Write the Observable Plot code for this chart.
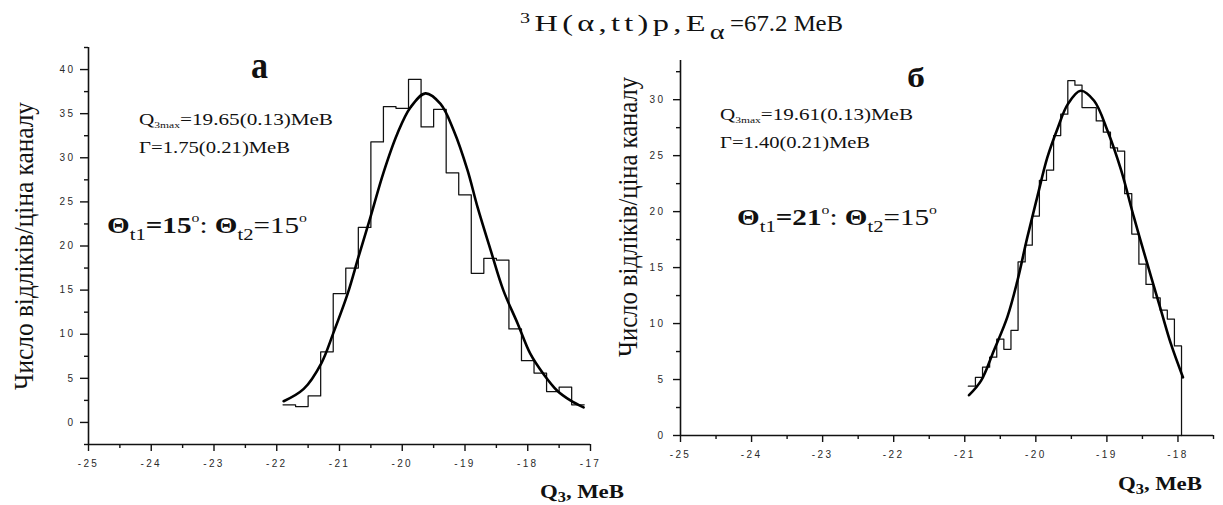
<!DOCTYPE html>
<html>
<head>
<meta charset="utf-8">
<script src="https://cdn.jsdelivr.net/npm/d3@7"></script>
<script src="https://cdn.jsdelivr.net/npm/@observablehq/plot@0.6"></script>
<style>
  html, body { margin: 0; padding: 0; background: #fff; }
  #wrap { position: relative; width: 1223px; height: 505px; overflow: hidden; }
  #wrap > svg { position: absolute; top: 0; }
  #notes { left: 0; pointer-events: none; }
</style>
</head>
<body>
<div id="wrap"></div>
<script>
// ---- Panel а: Θt1 = 15°, Θt2 = 15°, 0.2 MeV channels ----
const aBinStart = -21.9;
const aBinWidth = 0.2;
const aCounts = [2.0, 1.8, 3.0, 8.0, 14.6, 17.5, 22.1, 31.8, 35.8, 35.6, 38.9, 33.5,
                 35.5, 28.3, 25.8, 16.9, 18.6, 18.4, 10.6, 7.0, 5.6, 3.5, 4.0, 2.0];
// fitted curve, read along its path
const aFitQ = [-21.89, -21.57, -21.29, -21.10, -20.87, -20.70, -20.51, -20.30, -20.08, -19.87,
               -19.63, -19.39, -19.18, -18.96, -18.80, -18.59, -18.39, -18.16, -17.96, -17.75,
               -17.53, -17.32, -17.11];
const aFitN = [2.4, 3.8, 6.7, 10.1, 14.6, 18.7, 23.2, 28.3, 32.7, 35.7,
               37.3, 36.1, 33.1, 28.6, 24.4, 19.5, 15.0, 11.2, 7.8, 5.5,
               3.6, 2.5, 1.7];

// ---- Panel б: Θt1 = 21°, Θt2 = 15°, 0.1 MeV channels ----
const bBinStart = -20.95;
const bBinWidth = 0.1;
const bCounts = [4.4, 5.2, 6.1, 7.0, 8.6, 7.7, 9.4, 15.5, 17.0, 19.6,
                 22.8, 23.7, 26.8, 28.7, 31.7, 31.3, 29.3, 29.3, 28.1, 27.1,
                 25.7, 25.4, 21.6, 18.0, 15.3, 13.5, 12.3, 11.2, 10.4, 8.0];
const bFitQ = [-20.94, -20.77, -20.59, -20.40, -20.26, -20.12, -19.98, -19.84, -19.69, -19.55,
               -19.37, -19.18, -18.99, -18.80, -18.62, -18.43, -18.24, -18.10, -17.93];
const bFitN = [3.6, 4.9, 7.6, 10.6, 13.8, 17.7, 21.3, 24.8, 27.5, 29.6,
               30.8, 29.9, 27.2, 23.7, 19.5, 15.3, 11.2, 8.2, 5.2];

// axis ticks
const xMajor = [-25, -24, -23, -22, -21, -20, -19, -18, -17];
const xMinorA = [-24.5, -23.5, -22.5, -21.5, -20.5, -19.5, -18.5, -17.5];
const xMinorB = [-24.5, -23.5, -22.5, -21.5, -20.5, -19.5, -18.5, -17.5];
const yMajorA = [0, 5, 10, 15, 20, 25, 30, 35, 40];
const yMinorA = [-2.5, 2.5, 7.5, 12.5, 17.5, 22.5, 27.5, 32.5, 37.5, 42.5];
const yMajorB = [0, 5, 10, 15, 20, 25, 30];
const yMinorB = [2.5, 7.5, 12.5, 17.5, 22.5, 27.5, 32.5];

// step outline of a channel histogram
function steps(start, width, counts, dropToZero) {
  const pts = counts.map((n, i) => ({q: +(start + i * width).toFixed(3), n}));
  const end = +(start + counts.length * width).toFixed(3);
  pts.push({q: end, n: counts[counts.length - 1]});
  if (dropToZero) pts.push({q: end, n: 0});
  return pts;
}
const fitRows = (qs, ns) => qs.map((q, i) => ({q, n: ns[i]}));

function panel({width, height, mL, mR, mT, mB, xDom, yDom, xMaj, xMin, yMaj, yMin,
                xTick, yTick, yPad, hist, fit}) {
  return Plot.plot({
    width, height,
    marginLeft: mL, marginRight: mR, marginTop: mT, marginBottom: mB,
    x: {domain: xDom},
    y: {domain: yDom},
    style: {fontFamily: "'Liberation Sans', Arial, sans-serif", fontSize: "10px",
            letterSpacing: "2.4px", color: "#2a2a2a", background: "transparent",
            overflow: "visible"},
    marks: [
      Plot.axisX({ticks: xMaj, tickSize: xTick, tickPadding: 8, tickFormat: d => String(d),
                  label: null, strokeWidth: 1.4, stroke: "#111"}),
      Plot.axisX({ticks: xMin, tickSize: 4, tickFormat: () => "", label: null,
                  strokeWidth: 1.4, stroke: "#111"}),
      Plot.axisY({ticks: yMaj, tickSize: yTick, tickPadding: yPad, tickFormat: d => String(d),
                  label: null, strokeWidth: 1.4, stroke: "#111"}),
      Plot.axisY({ticks: yMin, tickSize: 4, tickFormat: () => "", label: null,
                  strokeWidth: 1.4, stroke: "#111"}),
      Plot.ruleY([yDom[0]], {stroke: "#111", strokeWidth: 1.6}),
      Plot.ruleX([xDom[0]], {stroke: "#111", strokeWidth: 1.6}),
      Plot.line(hist, {x: "q", y: "n", curve: "step-after", stroke: "#111", strokeWidth: 1.25}),
      Plot.line(fit, {x: "q", y: "n", curve: "catmull-rom", stroke: "#000", strokeWidth: 2.6})
    ]
  });
}

const wrap = document.getElementById("wrap");

const left = panel({
  width: 610, height: 505, mL: 88, mR: 20, mT: 47, mB: 61,
  xDom: [-25, -17], yDom: [-2.5, 42.5],
  xMaj: xMajor, xMin: xMinorA, yMaj: yMajorA, yMin: yMinorA,
  xTick: 7, yTick: 8, yPad: 5,
  hist: steps(aBinStart, aBinWidth, aCounts, false),
  fit: fitRows(aFitQ, aFitN)
});
left.style.left = "0px";
wrap.appendChild(left);

const right = panel({
  width: 613, height: 505, mL: 70, mR: 10, mT: 60, mB: 70,
  xDom: [-25, -17.5], yDom: [0, 33.5],
  xMaj: xMajor.slice(0, 8), xMin: xMinorB, yMaj: yMajorB, yMin: yMinorB,
  xTick: 7, yTick: 7, yPad: 8,
  hist: steps(bBinStart, bBinWidth, bCounts, true),
  fit: fitRows(bFitQ, bFitN)
});
right.style.left = "610px";
wrap.appendChild(right);

// titles, fit parameters and axis captions
const serif = "Liberation Serif";
const sa = 'lengthAdjust="spacingAndGlyphs"';
const notes = `
<svg id="notes" width="1223" height="505" xmlns="http://www.w3.org/2000/svg"
     font-family="${serif}" style="font-family:'${serif}',serif" fill="#111">
  <text transform="translate(520,31) scale(1.35,1)" font-size="24" letter-spacing="3.2"><tspan font-size="15" dy="-8">3</tspan><tspan dy="8">H(α,tt)p,E</tspan><tspan font-size="21" dy="8">α</tspan></text>
  <text x="730" y="31" font-size="23" textLength="113" ${sa}>=67.2 МеВ</text>

  <text x="251" y="78" font-size="37" font-weight="bold" textLength="17" ${sa}>а</text>
  <text x="139" y="125" font-size="16.5" textLength="194" ${sa}>Q<tspan font-size="9" dy="3">3max</tspan><tspan dy="-3">=19.65(0.13)МеВ</tspan></text>
  <text x="139" y="153" font-size="16.5" textLength="151" ${sa}>Γ=1.75(0.21)МеВ</text>
  <text x="107" y="233" font-size="24" textLength="200" ${sa}><tspan font-weight="900">Θ</tspan><tspan font-size="17" dy="7">t1</tspan><tspan dy="-7" font-weight="bold">=15</tspan><tspan font-size="13" dy="-11">o</tspan><tspan dy="11">: </tspan><tspan font-weight="900">Θ</tspan><tspan font-size="17" dy="7">t2</tspan><tspan dy="-7">=15</tspan><tspan font-size="13" dy="-11">o</tspan></text>

  <text x="907" y="87" font-size="27" font-weight="bold" textLength="18" ${sa}>б</text>
  <text x="720" y="120" font-size="16.5" textLength="193" ${sa}>Q<tspan font-size="9" dy="3">3max</tspan><tspan dy="-3">=19.61(0.13)МеВ</tspan></text>
  <text x="720" y="148" font-size="16.5" textLength="150" ${sa}>Γ=1.40(0.21)МеВ</text>
  <text x="737" y="225" font-size="24" textLength="200" ${sa}><tspan font-weight="900">Θ</tspan><tspan font-size="17" dy="7">t1</tspan><tspan dy="-7" font-weight="bold">=21</tspan><tspan font-size="13" dy="-11">o</tspan><tspan dy="11">: </tspan><tspan font-weight="900">Θ</tspan><tspan font-size="17" dy="7">t2</tspan><tspan dy="-7">=15</tspan><tspan font-size="13" dy="-11">o</tspan></text>

  <text transform="translate(33,246) scale(1.3,1) rotate(-90)" text-anchor="middle" font-size="21" textLength="288" ${sa}>Число відліків/ціна каналу</text>
  <text transform="translate(637,217) scale(1.3,1) rotate(-90)" text-anchor="middle" font-size="21" textLength="280" ${sa}>Число відліків/ціна каналу</text>

  <text x="540" y="498" font-size="19.5" font-weight="bold" textLength="84" ${sa}>Q<tspan font-size="14" dy="4">3</tspan><tspan dy="-4">, МеВ</tspan></text>
  <text x="1118" y="490" font-size="19.5" font-weight="bold" textLength="84" ${sa}>Q<tspan font-size="14" dy="4">3</tspan><tspan dy="-4">, МеВ</tspan></text>
</svg>`;
wrap.insertAdjacentHTML("beforeend", notes);
</script>
</body>
</html>
